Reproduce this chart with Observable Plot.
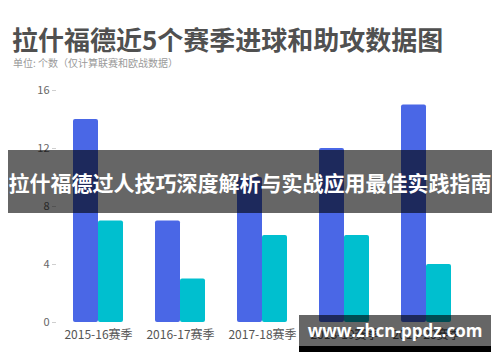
<!DOCTYPE html>
<html>
<head>
<meta charset="utf-8">
<script src="https://cdn.jsdelivr.net/npm/d3@7"></script>
<script src="https://cdn.jsdelivr.net/npm/@observablehq/plot@0.6"></script>
<style>
  html, body { margin: 0; padding: 0; background: #fff; }
  #wrap { position: relative; width: 500px; height: 362px; overflow: hidden; font-family: "Noto Sans CJK SC", "Noto Sans", sans-serif; }
  #title { position: absolute; left: 12px; top: 26px; line-height: 1; font-size: 26px; font-weight: 700; color: #505050; white-space: nowrap; }
  #subtitle { position: absolute; left: 13px; top: 58px; line-height: 1; font-size: 10px; color: #9a9a9a; white-space: nowrap; }
  #chart { position: absolute; left: 0; top: 0; }
  #banner { position: absolute; left: 8px; top: 150px; width: 484px; height: 63px; background: rgba(0,0,0,0.6); color: #fff; font-size: 21px; font-weight: 700; display: flex; align-items: center; justify-content: center; white-space: nowrap; }
  #wm { position: absolute; left: 299px; top: 315px; width: 192px; height: 31px; background: rgba(0,0,0,0.6); color: #fff; font-size: 17px; font-weight: 700; display: flex; align-items: center; justify-content: center; white-space: nowrap; font-family: "Open Sans", "DejaVu Sans", sans-serif; }
  #wmbar { position: absolute; left: 299px; top: 346px; width: 192px; height: 6px; background: #000; }
</style>
</head>
<body>
<div id="wrap">
  <div id="chart"></div>
  <div id="title"></div>
  <div id="subtitle"></div>
  <div id="banner"></div>
  <div id="wm"></div>
  <div id="wmbar"></div>
</div>
<script>
const titleText = "拉什福德近5个赛季进球和助攻数据图";
const subtitleText = "单位: 个数（仅计算联赛和欧战数据）";
const bannerText = "拉什福德过人技巧深度解析与实战应用最佳实践指南";
const watermarkText = "www.zhcn-ppdz.com";

const seasons = ["2015-16赛季", "2016-17赛季", "2017-18赛季", "2018-19赛季", "2019-20赛季"];
const goals = [14, 7, 10, 12, 15];
const assists = [7, 3, 6, 6, 4];
const yTicks = [0, 4, 8, 12, 16];

document.getElementById("title").textContent = titleText;
document.getElementById("subtitle").textContent = subtitleText;
document.getElementById("banner").textContent = bannerText;
document.getElementById("wm").textContent = watermarkText;

const goalRows = seasons.map((s, i) => ({season: s, value: goals[i]}));
const assistRows = seasons.map((s, i) => ({season: s, value: assists[i]}));

const plot = Plot.plot({
  width: 500,
  height: 362,
  marginTop: 90,
  marginBottom: 40,
  marginLeft: 56,
  marginRight: 32,
  style: { fontFamily: '"Noto Sans CJK SC", "Noto Sans", sans-serif', background: "transparent" },
  x: { domain: seasons, paddingInner: 0.394, paddingOuter: 0.197, label: null },
  y: { domain: [0, 16], label: null },
  marks: [
    Plot.gridY(yTicks, { stroke: "#c8c8c8", strokeOpacity: 1, strokeDasharray: "2,3", x1: 55, x2: 467 }),
    Plot.barY(goalRows, { x: "season", y: "value", fill: "#4a67e6", insetRight: 25, rx: 2 }),
    Plot.barY(assistRows, { x: "season", y: "value", fill: "#00bfcf", insetLeft: 25, rx: 2 }),
    Plot.ruleY([0], { stroke: "#cfcfcf", x1: 52, x2: 467 }),
    Plot.axisY({ ticks: yTicks, tickSize: 4, tickPadding: 3, stroke: "#cfcfcf", fill: "#666", fontSize: 11, label: null }),
    Plot.axisX({ tickSize: 0, tickPadding: 8, fill: "#555", fontSize: 12, label: null })
  ]
});
document.getElementById("chart").appendChild(plot);
</script>
</body>
</html>
